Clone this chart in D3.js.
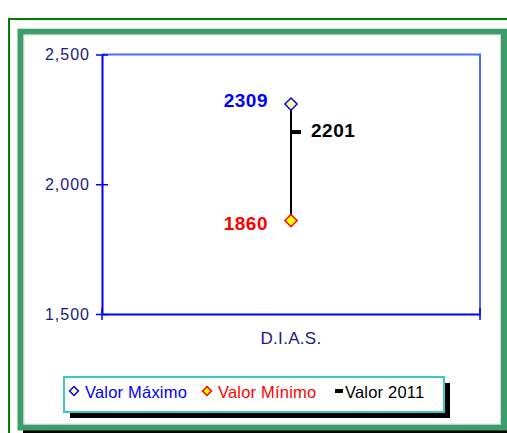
<!DOCTYPE html>
<html>
<head>
<meta charset="utf-8">
<script src="https://cdn.jsdelivr.net/npm/d3@7"></script>
<style>
  body { margin: 0; background: #fff; }
  svg { display: block; font-family: Arial, "Liberation Sans", sans-serif; }
</style>
</head>
<body>
<div id="chart"></div>
<script>
// Chart values
var categories = ["D.I.A.S."];
var maxValues = [2309],
  minValues = [1860],
  values2011 = [2201];
var yTicks = [1500, 2000, 2500];
var legendLabels = ["Valor Máximo", "Valor Mínimo", "Valor 2011"];

// Placement
var width = 507,
  height = 433,
  plotLeft = 102,
  plotRight = 480,
  plotTop = 54.5,
  plotBottom = 314;

var svg = d3.select("#chart")
  .append("svg")
  .attr("width", width)
  .attr("height", height);

// outer thin frame
svg.append("rect")
  .attr("x", 9).attr("y", 19)
  .attr("width", 520).attr("height", 440)
  .attr("fill", "none")
  .attr("stroke", "#008000")
  .attr("stroke-width", 2);

// shadow + thick frame
svg.append("rect")
  .attr("x", 23).attr("y", 35)
  .attr("width", 500).attr("height", 398)
  .attr("fill", "#000");
svg.append("rect")
  .attr("x", 20.5).attr("y", 31.7)
  .attr("width", 483.5).attr("height", 395.8)
  .attr("fill", "#fff")
  .attr("stroke", "#3c9d6b")
  .attr("stroke-width", 6);
svg.append("rect")
  .attr("x", 24).attr("y", 35)
  .attr("width", 476.5).attr("height", 389)
  .attr("fill", "none")
  .attr("stroke", "#d0d8d0")
  .attr("stroke-width", 1);

// scales
var x = d3.scaleBand()
  .domain(categories)
  .range([plotLeft, plotRight]);
var y = d3.scaleLinear()
  .domain([1500, 2500])
  .range([plotBottom, plotTop]);

// plot border (top & right)
svg.append("path")
  .attr("d", "M" + plotLeft + "," + plotTop + "H" + plotRight + "V" + plotBottom)
  .attr("fill", "none")
  .attr("stroke", "#4a6cff")
  .attr("stroke-width", 2);

// y axis
var yAxis = svg.append("g")
  .attr("transform", "translate(" + plotLeft + ",0)")
  .call(d3.axisLeft(y).tickValues(yTicks).tickFormat(d3.format(",")).tickSizeInner(6).tickSizeOuter(0).tickPadding(6));
yAxis.select(".domain").attr("stroke", "#0000ff").attr("stroke-width", 2);
yAxis.selectAll(".tick line").attr("x1", 6).attr("stroke", "#0000ff").attr("stroke-width", 1.5);
yAxis.selectAll(".tick text")
  .attr("fill", "#1a1a86")
  .style("font-size", "16px")
  .style("letter-spacing", "1px");

// x axis
var xAxis = svg.append("g")
  .attr("transform", "translate(0," + plotBottom + ")")
  .call(d3.axisBottom(x).tickSize(0).tickPadding(18));
xAxis.select(".domain").attr("stroke", "#0000ff").attr("stroke-width", 2);
xAxis.selectAll(".tick text")
  .attr("fill", "#1a1a86")
  .style("font-size", "17px")
  .style("letter-spacing", "0.3px");
xAxis.selectAll(".edge")
  .data(x.range())
  .enter().append("line")
  .attr("x1", function(d) { return d; })
  .attr("x2", function(d) { return d; })
  .attr("y1", -6).attr("y2", 6)
  .attr("stroke", "#0000ff")
  .attr("stroke-width", 1.5);

var cx = function(d, i) { return x(categories[i]) + x.bandwidth() / 2; };
var diamond = d3.symbol().type(d3.symbolDiamond2);

// high-low line
svg.selectAll(".hiLo")
  .data(categories)
  .enter().append("line")
  .attr("x1", cx).attr("x2", cx)
  .attr("y1", function(d, i) { return y(maxValues[i]); })
  .attr("y2", function(d, i) { return y(minValues[i]); })
  .attr("stroke", "#000")
  .attr("stroke-width", 2);

// 2011 tick
svg.selectAll(".close")
  .data(values2011)
  .enter().append("rect")
  .attr("x", function(d, i) { return cx(d, i); })
  .attr("y", function(d) { return y(d) - 2; })
  .attr("width", 10).attr("height", 4)
  .attr("fill", "#000");

// max markers
svg.selectAll(".maxPt")
  .data(maxValues)
  .enter().append("path")
  .attr("d", diamond.size(95))
  .attr("transform", function(d, i) { return "translate(" + cx(d, i) + "," + y(d) + ")"; })
  .attr("fill", "#ffff99")
  .attr("stroke", "#0000ff")
  .attr("stroke-width", 1.5);

// min markers
svg.selectAll(".minPt")
  .data(minValues)
  .enter().append("path")
  .attr("d", diamond.size(95))
  .attr("transform", function(d, i) { return "translate(" + cx(d, i) + "," + y(d) + ")"; })
  .attr("fill", "#ffff00")
  .attr("stroke", "#ff0000")
  .attr("stroke-width", 1.5);

// data labels
function label(data, color, dx, dy, anchor) {
  svg.append("g").selectAll("text")
    .data(data)
    .enter().append("text")
    .attr("x", function(d, i) { return cx(d, i) + dx; })
    .attr("y", function(d) { return y(d) + dy; })
    .attr("text-anchor", anchor)
    .attr("fill", color)
    .style("font-size", "19px")
    .style("font-weight", "bold")
    .style("letter-spacing", "0.5px")
    .text(function(d) { return d; });
}
label(maxValues, "#0000ff", -23, 3, "end");
label(minValues, "#ff0000", -23, 9.5, "end");
label(values2011, "#000", 20, 5, "start");

// legend
var lg = svg.append("g").attr("transform", "translate(64,377)");
lg.append("rect")
  .attr("x", 6).attr("y", 6)
  .attr("width", 380).attr("height", 35)
  .attr("fill", "#000");
lg.append("rect")
  .attr("width", 380).attr("height", 35)
  .attr("fill", "#fff")
  .attr("stroke", "#3cc8c8")
  .attr("stroke-width", 2);

var legendX = [10, 143, 275],
  legendColors = ["#0000ff", "#ff0000", "#000"];

lg.append("path")
  .attr("d", d3.symbol().type(d3.symbolDiamond2).size(50))
  .attr("transform", "translate(" + legendX[0] + ",14)")
  .attr("fill", "#ffff99").attr("stroke", "#0000ff").attr("stroke-width", 1.5);
lg.append("path")
  .attr("d", d3.symbol().type(d3.symbolDiamond2).size(50))
  .attr("transform", "translate(" + legendX[1] + ",14)")
  .attr("fill", "#ffff00").attr("stroke", "#ff0000").attr("stroke-width", 1.5);
lg.append("rect")
  .attr("x", legendX[2] - 4).attr("y", 12)
  .attr("width", 8).attr("height", 4)
  .attr("fill", "#000");

lg.selectAll(".lgText")
  .data(legendLabels)
  .enter().append("text")
  .attr("x", function(d, i) { return legendX[i] + (i === 2 ? 6 : 11); })
  .attr("y", 20.5)
  .attr("fill", function(d, i) { return legendColors[i]; })
  .style("font-size", "16.5px")
  .style("letter-spacing", "0.2px")
  .text(function(d) { return d; });
</script>
</body>
</html>
